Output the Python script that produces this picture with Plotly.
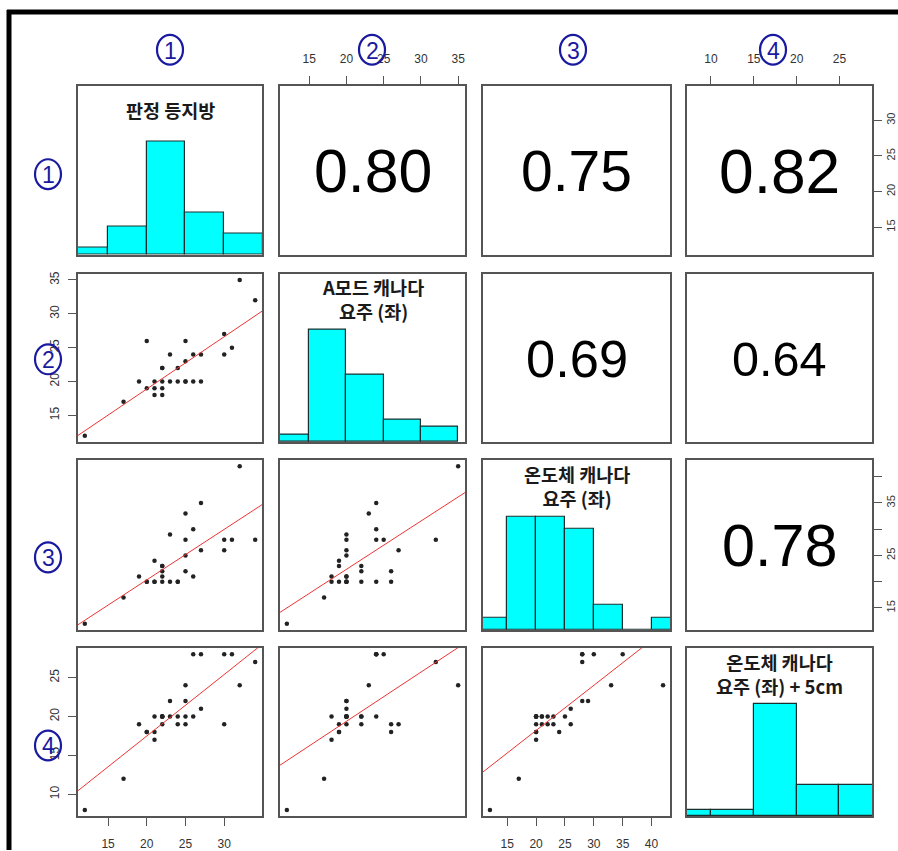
import numpy as np
import plotly.graph_objects as go

# ---------------- data ----------------
var_titles = ["판정 등지방", "A모드 캐나다<br>요주 (좌)", "온도체 캐나다<br>요주 (좌)",
              "온도체 캐나다<br>요주 (좌) + 5cm"]
panel_digits = ["1", "2", "3", "4"]

v1 = [12, 17, 19, 20, 20, 21, 21, 21, 22, 22, 22, 22, 22, 23, 23, 24, 24, 25, 25, 25, 25,
      26, 26, 27, 27, 30, 30, 31, 32, 34]
v2 = [12, 17, 20, 26, 19, 18, 19, 20, 22, 22, 18, 19, 20, 24, 20, 22, 20, 23, 26, 20, 20,
      24, 20, 24, 20, 24, 27, 25, 35, 32]
v3 = [12, 17, 21, 20, 20, 20, 24, 20, 22, 23, 21, 23, 20, 20, 29, 20, 20, 33, 22, 28, 25,
      30, 21, 35, 26, 28, 26, 28, 42, 28]
v4 = [8, 12, 19, 18, 18, 17, 18, 20, 20, 20, 20, 19, 20, 20, 22, 19, 20, 24, 19, 22, 20,
      28, 20, 28, 21, 28, 19, 28, 24, 27]

# correlation labels shown in the upper panels (row, col) -> value
cor_pairs = [(0, 1), (0, 2), (0, 3), (1, 2), (1, 3), (2, 3)]
cor_values = [0.80, 0.75, 0.82, 0.69, 0.64, 0.78]

# labels that R left visible on the right-hand axis of row 3
row3_right_ticktext = ["15", "", "25", "", "35", ""]

# ---------------- layout helpers ----------------
W, H = 898, 851
col_px = [(78, 262), (280, 465), (483, 670), (687, 872)]
row_px = [(83, 253), (272, 441), (459, 630), (648, 817)]


def px_x(px):
    return px / W


def px_y(py):
    return 1 - py / H


data = [np.array(v, dtype=float) for v in (v1, v2, v3, v4)]
ranges = []
ticks = []
breaks = []
for d in data:
    lo, hi = d.min(), d.max()
    pad = 0.04 * (hi - lo)
    ranges.append([lo - pad, hi + pad])
    ticks.append([t for t in range(0, 60, 5) if lo - pad <= t <= hi + pad])
    breaks.append(np.arange(np.floor(lo / 5) * 5, np.ceil(hi / 5) * 5 + 5, 5))

fig = go.Figure()

TICKFONT = dict(family="Liberation Sans, Arial", size=12, color="#333333")
RIGHTFONT = dict(family="Liberation Sans, Arial", size=11, color="#333333")
BOX = "#555555"

for i in range(4):
    for j in range(4):
        k = i * 4 + j + 1
        xname = "xaxis" if k == 1 else f"xaxis{k}"
        yname = "yaxis" if k == 1 else f"yaxis{k}"
        xref = "x" if k == 1 else f"x{k}"
        yref = "y" if k == 1 else f"y{k}"

        xa = dict(domain=[px_x(col_px[j][0]), px_x(col_px[j][1])], range=ranges[j],
                  anchor=yref, showline=True, mirror=True, linecolor=BOX, linewidth=1.5,
                  showgrid=False, zeroline=False, ticks="", showticklabels=False,
                  fixedrange=True)
        if i == 0 and j % 2 == 1:
            xa.update(side="top", ticks="outside", ticklen=8, tickcolor=BOX, tickwidth=1,
                      showticklabels=True, tickvals=ticks[j], tickfont=TICKFONT,
                      ticklabelstandoff=8)
        if i == 3 and j % 2 == 0:
            xa.update(side="bottom", ticks="outside", ticklen=8, tickcolor=BOX, tickwidth=1,
                      showticklabels=True, tickvals=ticks[j], tickfont=TICKFONT,
                      ticklabelstandoff=8)

        yr = [0, 1.5] if i == j else ranges[i]
        ya = dict(domain=[px_y(row_px[i][1]), px_y(row_px[i][0])], range=yr,
                  anchor=xref, showline=True, mirror=True, linecolor=BOX, linewidth=1.5,
                  showgrid=False, zeroline=False, ticks="", showticklabels=False,
                  fixedrange=True)
        if j == 0 and i % 2 == 1:
            ya.update(side="left", ticks="outside", ticklen=8, tickcolor=BOX, tickwidth=1,
                      showticklabels=True, tickvals=ticks[i], tickfont=TICKFONT,
                      tickangle=-90, ticklabelstandoff=4)
        if j == 3 and i % 2 == 0:
            ya.update(side="right", ticks="outside", ticklen=8, tickcolor=BOX, tickwidth=1,
                      showticklabels=True, tickvals=ticks[i], tickfont=RIGHTFONT,
                      tickangle=-90, ticklabelstandoff=0, range=ranges[i])
            if i == 2:
                ya.update(ticktext=row3_right_ticktext)
        fig.layout[xname] = xa
        fig.layout[yname] = ya

        if i == j:
            d = data[i]
            br = breaks[i]
            counts = []
            for b in range(len(br) - 1):
                if b == 0:
                    c = np.sum((d >= br[b]) & (d <= br[b + 1]))
                else:
                    c = np.sum((d > br[b]) & (d <= br[b + 1]))
                counts.append(c)
            counts = np.array(counts, dtype=float)
            fig.add_trace(go.Bar(x=(br[:-1] + br[1:]) / 2, y=counts / counts.max(),
                                 width=np.diff(br), base=0,
                                 marker=dict(color="#00ffff",
                                             line=dict(color="#1a3030", width=1.2)),
                                 xaxis=xref, yaxis=yref, showlegend=False,
                                 hoverinfo="skip"))
        elif i > j:
            xd, yd = data[j], data[i]
            fig.add_trace(go.Scatter(x=xd, y=yd, mode="markers",
                                     marker=dict(size=4.5, color="#222222"),
                                     xaxis=xref, yaxis=yref, showlegend=False,
                                     hoverinfo="skip"))
            slope, icpt = np.polyfit(xd, yd, 1)
            xl = np.array(ranges[j])
            fig.add_trace(go.Scatter(x=xl, y=slope * xl + icpt, mode="lines",
                                     line=dict(color="#ee3333", width=1),
                                     xaxis=xref, yaxis=yref, showlegend=False,
                                     hoverinfo="skip"))
        else:
            # invisible placeholder so the empty upper panel still draws its box/axes
            fig.add_trace(go.Scatter(x=[np.mean(ranges[j])], y=[np.mean(ranges[i])],
                                     mode="markers", marker=dict(size=1, opacity=0),
                                     xaxis=xref, yaxis=yref, showlegend=False,
                                     hoverinfo="skip"))

annotations = []
shapes = []
# diagonal titles
title_y = [108, 297, 485, 674]
for i in range(4):
    cx = (col_px[i][0] + col_px[i][1]) / 2
    annotations.append(dict(x=px_x(cx), y=px_y(title_y[i]), xref="paper", yref="paper",
                            text=f"<b>{var_titles[i]}</b>", showarrow=False,
                            xanchor="center", yanchor="middle",
                            font=dict(family="Noto Sans CJK KR", size=18.5, color="#1a1a1a")))

# correlation numbers, sized by the value
for (r, c), val in zip(cor_pairs, cor_values):
    cx = (col_px[c][0] + col_px[c][1]) / 2
    cy = (row_px[r][0] + row_px[r][1]) / 2 + 1
    annotations.append(dict(x=px_x(cx), y=px_y(cy), xref="paper", yref="paper",
                            text=f"{val:.2f}", showarrow=False,
                            xanchor="center", yanchor="middle",
                            font=dict(family="Liberation Sans, Arial", size=76 * val,
                                      color="#000000")))

# circled variable numbers
NAVY = "#1a1aa0"
top_x = [170, 372, 573, 773]
left_y = [172, 358, 557, 746]
positions = [(top_x[n], 47, n) for n in range(4)] + [(48, left_y[n], n) for n in range(4)]
for (cx, cy, n) in positions:
    shapes.append(dict(type="circle", xref="paper", yref="paper",
                       x0=px_x(cx - 13), x1=px_x(cx + 13), y0=px_y(cy + 15), y1=px_y(cy - 15),
                       line=dict(color=NAVY, width=2.2)))
    annotations.append(dict(x=px_x(cx), y=px_y(cy + 1), xref="paper", yref="paper",
                            text=panel_digits[n], showarrow=False, xanchor="center",
                            yanchor="middle",
                            font=dict(family="Liberation Sans Narrow, Liberation Sans",
                                      size=23, color=NAVY)))

shapes += [
    dict(type="line", xref="paper", yref="paper", x0=px_x(7), x1=1.0,
         y0=px_y(9), y1=px_y(9), line=dict(color="#000000", width=5)),
    dict(type="line", xref="paper", yref="paper", x0=px_x(9), x1=px_x(9),
         y0=px_y(7), y1=0.0, line=dict(color="#000000", width=5)),
]

fig.update_layout(width=W, height=H, margin=dict(l=0, r=0, t=0, b=0),
                  paper_bgcolor="white", plot_bgcolor="white",
                  annotations=annotations, shapes=shapes, bargap=0, showlegend=False)

post = ("document.documentElement.style.overflow='hidden';"
        "document.body.style.overflow='hidden';"
        "document.body.style.margin='0px';"
        "var gd=document.getElementById('{plot_id}');"
        "gd.style.overflow='hidden';")
fig.write_html("out.html", config={"displayModeBar": False}, post_script=post)
